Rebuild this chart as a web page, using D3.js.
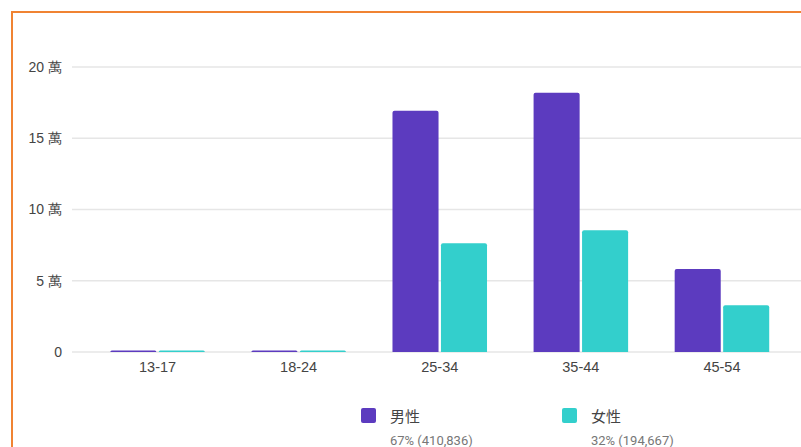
<!DOCTYPE html>
<html>
<head>
<meta charset="utf-8">
<script src="https://cdn.jsdelivr.net/npm/d3@7"></script>
<style>
  body { margin: 0; background: #fff; }
  #chart svg { display: block; font-family: Roboto, "Noto Sans CJK TC", sans-serif; }
</style>
</head>
<body>
<div id="chart"><svg width="801" height="447"></svg></div>
<script>
// 資料
var ages = ["13-17", "18-24", "25-34", "35-44", "45-54"];
var male = [500, 836, 169300, 182000, 58200];
var female = [70, 97, 76300, 85400, 32800];
var yTicks = [0, 50000, 100000, 150000, 200000];
var seriesNames = ["男性", "女性"];
var seriesNotes = ["67% (410,836)", "32% (194,667)"];
var colors = ["#5c3bbf", "#33cfcc"];

var W = 801, H = 447;
var plotTop = 67, plotBottom = 352, plotLeft = 72;

var svg = d3.select("#chart svg");

// 外框
svg.append("path")
    .attr("d", "M12," + H + "V12H" + W)
    .attr("fill", "none")
    .attr("stroke", "#f08332")
    .attr("stroke-width", 2);

var x0 = d3.scaleBand()
    .domain(ages)
    .range([87, 792.5])
    .paddingInner(0.33)
    .paddingOuter(0.165);
var x1 = d3.scaleBand()
    .domain([0, 1])
    .range([0, x0.bandwidth()])
    .paddingInner(0.05);
var y = d3.scaleLinear()
    .domain([0, 200000])
    .range([plotBottom, plotTop]);

// 格線
var gGrid = svg.append("g").attr("class", "grid");
gGrid.selectAll("line").data(yTicks).enter()
    .append("line")
    .attr("x1", plotLeft).attr("x2", W)
    .attr("y1", function(d) { return y(d); })
    .attr("y2", function(d) { return y(d); })
    .attr("stroke", "#e6e6e6")
    .attr("stroke-width", 1.5);

var gyAxis = svg.append("g")
    .attr("class", "y-axis axis")
    .attr("transform", "translate(62,0)")
    .call(d3.axisLeft(y).tickValues(yTicks).tickSize(0)
        .tickFormat(function(d) { return d === 0 ? "0" : (d / 10000) + " 萬"; }));
gyAxis.select(".domain").remove();
gyAxis.selectAll("text")
    .attr("x", 0)
    .attr("fill", "#444")
    .style("font-size", "14px");

var gxAxis = svg.append("g")
    .attr("class", "x-axis axis")
    .attr("transform", "translate(0," + plotBottom + ")")
    .call(d3.axisBottom(x0).tickSize(0).tickPadding(10));
gxAxis.select(".domain").remove();
gxAxis.selectAll("text")
    .attr("fill", "#444")
    .style("font-size", "14.5px");

// 長條
var rows = ages.map(function(a, i) { return { age: a, v: [male[i], female[i]] }; });
var gData = svg.append("g").attr("class", "data");
var groups = gData.selectAll("g").data(rows).enter()
    .append("g")
    .attr("transform", function(d) { return "translate(" + x0(d.age) + ",0)"; });

function barPath(x, w, top, bottom) {
    if (bottom - top < 1.5) top = bottom - 1.5;
    var r = Math.min(2, (bottom - top));
    return "M" + x + "," + bottom +
        "V" + (top + r) +
        "Q" + x + "," + top + " " + (x + r) + "," + top +
        "H" + (x + w - r) +
        "Q" + (x + w) + "," + top + " " + (x + w) + "," + (top + r) +
        "V" + bottom + "Z";
}

groups.selectAll("path").data(function(d) { return d.v; }).enter()
    .append("path")
    .attr("d", function(d, i) { return barPath(x1(i), x1.bandwidth(), y(d), y(0)); })
    .attr("fill", function(d, i) { return colors[i]; });

// 圖例
var legendX = [361, 562];
var gLegend = svg.append("g").attr("class", "legend");
var items = gLegend.selectAll("g").data(seriesNames).enter()
    .append("g")
    .attr("transform", function(d, i) { return "translate(" + legendX[i] + ",408)"; });
items.append("rect")
    .attr("width", 15).attr("height", 15).attr("rx", 2)
    .attr("fill", function(d, i) { return colors[i]; });
items.append("text")
    .attr("x", 29).attr("y", 14)
    .attr("fill", "#444")
    .style("font-size", "15px")
    .text(function(d) { return d; });
items.append("text")
    .attr("x", 29).attr("y", 37)
    .attr("fill", "#777")
    .style("font-size", "13px")
    .text(function(d, i) { return seriesNotes[i]; });
</script>
</body>
</html>
